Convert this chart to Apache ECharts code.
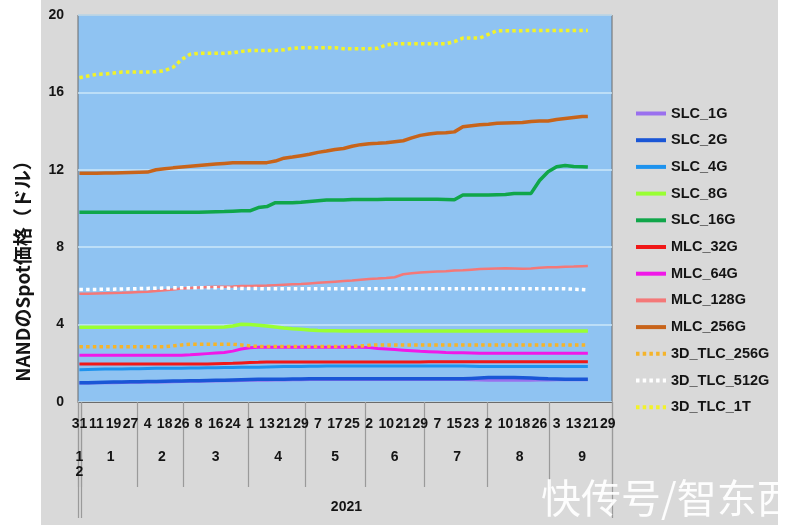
<!DOCTYPE html>
<html><head><meta charset="utf-8">
<script src="https://cdn.jsdelivr.net/npm/echarts@6/dist/echarts.min.js"></script>
<style>
html,body{margin:0;padding:0;background:#fff;}
#c{width:800px;height:525px;background:linear-gradient(to right,#ffffff 0,#ffffff 41px,#d9d9d9 41px,#d9d9d9 778px,#ffffff 778px);}
</style>
</head><body><div id="c"></div>
<script>
// ---- categories: trading days ----
const startDate = '2020-12-31';
const endDate = '2021-09-30';
const holidays = ['2021-01-01','2021-02-11','2021-02-12','2021-02-15','2021-02-16','2021-04-02','2021-04-05','2021-06-14'];
const yearLabel = '2021';
const yAxisName = 'NANDのSpot価格（ドル）';
const watermark = '快传号/智东西';

// ---- sample dates ----
const sampleDates = ['12/31','1/6','1/11','1/14','1/19','1/22','1/27','2/1','2/4','2/9',
 '2/18','2/23','2/26','3/3','3/8','3/11','3/16','3/19','3/24','3/29',
 '4/1','4/8','4/13','4/16','4/21','4/26','4/29','5/4','5/7','5/12',
 '5/17','5/20','5/25','5/28','6/2','6/7','6/10','6/16','6/21','6/24',
 '6/29','7/2','7/7','7/12','7/15','7/20','7/23','7/28','8/2','8/5',
 '8/10','8/13','8/18','8/23','8/26','8/31','9/3','9/8','9/13','9/16','9/20'];

const SLC_1G = [0.98,0.98,0.99,1.0,1.0,1.01,1.02,1.02,1.03,1.03,
 1.04,1.05,1.06,1.07,1.07,1.08,1.09,1.1,1.1,1.11,
 1.12,1.13,1.13,1.14,1.14,1.15,1.15,1.16,1.16,1.16,
 1.16,1.16,1.16,1.16,1.16,1.16,1.16,1.16,1.16,1.16,
 1.16,1.16,1.16,1.16,1.16,1.16,1.15,1.14,1.13,1.12,
 1.12,1.12,1.12,1.13,1.14,1.14,1.15,1.15,1.15,1.15,1.15];
const SLC_2G = [1.0,1.0,1.01,1.02,1.03,1.04,1.05,1.05,1.06,1.06,
 1.07,1.08,1.09,1.1,1.1,1.11,1.12,1.13,1.14,1.15,
 1.16,1.17,1.17,1.18,1.18,1.19,1.19,1.2,1.2,1.2,
 1.2,1.2,1.2,1.2,1.2,1.2,1.2,1.2,1.2,1.2,
 1.2,1.2,1.2,1.2,1.2,1.2,1.22,1.24,1.26,1.27,
 1.27,1.26,1.25,1.24,1.22,1.2,1.19,1.18,1.17,1.17,1.17];
const SLC_4G = [1.67,1.68,1.69,1.7,1.7,1.71,1.72,1.72,1.73,1.74,
 1.74,1.75,1.75,1.76,1.76,1.77,1.77,1.78,1.78,1.79,
 1.8,1.8,1.81,1.82,1.83,1.83,1.84,1.85,1.85,1.86,
 1.86,1.86,1.86,1.86,1.86,1.86,1.86,1.86,1.86,1.86,
 1.86,1.86,1.86,1.86,1.86,1.86,1.85,1.84,1.83,1.83,
 1.83,1.83,1.83,1.83,1.83,1.83,1.83,1.83,1.83,1.83,1.83];
const SLC_8G = [3.86,3.86,3.86,3.86,3.86,3.86,3.86,3.86,3.86,3.86,
 3.86,3.86,3.86,3.86,3.86,3.86,3.86,3.88,3.93,4.02,
 4.0,3.97,3.93,3.88,3.83,3.79,3.76,3.72,3.69,3.68,
 3.68,3.67,3.67,3.67,3.67,3.67,3.67,3.67,3.67,3.67,
 3.67,3.67,3.67,3.67,3.67,3.67,3.67,3.67,3.67,3.67,
 3.67,3.67,3.67,3.67,3.67,3.67,3.67,3.67,3.67,3.67,3.67];
const SLC_16G = [9.8,9.8,9.8,9.8,9.8,9.8,9.8,9.8,9.8,9.8,
 9.8,9.8,9.8,9.8,9.81,9.82,9.83,9.84,9.86,9.88,
 9.88,10.05,10.1,10.3,10.3,10.3,10.32,10.36,10.4,10.44,
 10.44,10.44,10.47,10.47,10.47,10.47,10.48,10.48,10.48,10.48,
 10.48,10.48,10.48,10.47,10.45,10.7,10.7,10.7,10.7,10.71,
 10.72,10.78,10.78,10.78,11.45,11.9,12.16,12.22,12.17,12.16,12.14];
const MLC_32G = [1.96,1.96,1.96,1.96,1.96,1.96,1.96,1.96,1.96,1.96,
 1.96,1.96,1.96,1.96,1.96,1.97,1.98,1.99,2.0,2.02,
 2.04,2.05,2.07,2.07,2.07,2.07,2.07,2.07,2.07,2.07,
 2.07,2.07,2.07,2.07,2.07,2.07,2.07,2.07,2.07,2.07,
 2.07,2.08,2.08,2.08,2.08,2.08,2.08,2.08,2.08,2.08,
 2.08,2.08,2.08,2.08,2.08,2.08,2.08,2.08,2.08,2.08,2.08];
const MLC_64G = [2.41,2.41,2.41,2.41,2.41,2.41,2.41,2.41,2.41,2.41,
 2.41,2.41,2.42,2.44,2.47,2.5,2.53,2.56,2.63,2.74,
 2.8,2.83,2.83,2.83,2.83,2.83,2.83,2.83,2.83,2.83,
 2.83,2.83,2.83,2.83,2.81,2.77,2.74,2.71,2.68,2.65,
 2.62,2.6,2.58,2.56,2.55,2.54,2.53,2.52,2.52,2.52,
 2.52,2.52,2.52,2.52,2.52,2.52,2.52,2.52,2.52,2.52,2.52];
const MLC_128G = [5.6,5.6,5.61,5.62,5.63,5.64,5.66,5.68,5.7,5.74,
 5.78,5.82,5.86,5.89,5.92,5.94,5.95,5.96,5.97,5.99,
 6.0,6.01,6.02,6.04,6.06,6.08,6.1,6.13,6.16,6.19,
 6.22,6.25,6.28,6.32,6.36,6.38,6.41,6.45,6.6,6.65,
 6.69,6.72,6.74,6.76,6.79,6.81,6.84,6.87,6.89,6.9,
 6.91,6.9,6.88,6.9,6.94,6.96,6.97,6.99,7.0,7.02,7.03];
const MLC_256G = [11.82,11.82,11.82,11.83,11.84,11.85,11.86,11.87,11.88,12.0,
 12.05,12.1,12.14,12.18,12.22,12.26,12.3,12.33,12.36,12.37,
 12.37,12.37,12.37,12.45,12.6,12.66,12.73,12.8,12.9,12.97,
 13.05,13.1,13.22,13.3,13.35,13.37,13.4,13.45,13.5,13.65,
 13.78,13.85,13.9,13.92,13.96,14.22,14.28,14.33,14.36,14.4,
 14.42,14.43,14.44,14.5,14.52,14.52,14.6,14.65,14.7,14.75,14.76];
const TLC3D_256G = [2.86,2.86,2.86,2.86,2.86,2.86,2.86,2.86,2.86,2.86,
 2.86,2.9,2.95,2.98,2.98,2.98,2.98,2.98,2.98,2.95,
 2.9,2.87,2.87,2.87,2.87,2.87,2.87,2.87,2.87,2.87,
 2.87,2.87,2.87,2.9,2.93,2.95,2.95,2.95,2.95,2.95,
 2.95,2.95,2.95,2.95,2.95,2.95,2.95,2.95,2.95,2.95,
 2.95,2.95,2.95,2.95,2.95,2.95,2.95,2.95,2.95,2.95,2.95];
const TLC3D_512G = [5.82,5.82,5.82,5.83,5.83,5.84,5.85,5.86,5.87,5.88,
 5.89,5.9,5.9,5.9,5.9,5.9,5.9,5.89,5.88,5.87,
 5.86,5.86,5.85,5.85,5.85,5.85,5.85,5.85,5.85,5.85,
 5.85,5.85,5.85,5.85,5.85,5.85,5.85,5.85,5.85,5.85,
 5.85,5.85,5.85,5.85,5.85,5.85,5.85,5.85,5.85,5.85,
 5.85,5.85,5.85,5.85,5.85,5.85,5.85,5.85,5.83,5.81,5.79];
const TLC3D_1T = [16.76,16.85,16.93,16.95,17.0,17.05,17.05,17.05,17.05,17.07,
 17.12,17.3,17.7,17.97,18.02,18.02,18.02,18.02,18.05,18.12,
 18.16,18.16,18.16,18.16,18.2,18.28,18.31,18.31,18.31,18.31,
 18.31,18.26,18.26,18.26,18.26,18.28,18.45,18.52,18.52,18.52,
 18.52,18.52,18.52,18.52,18.62,18.81,18.81,18.81,19.0,19.19,
 19.19,19.19,19.19,19.2,19.2,19.2,19.2,19.2,19.2,19.2,19.2];

const seriesNames = ['SLC_1G','SLC_2G','SLC_4G','SLC_8G','SLC_16G','MLC_32G','MLC_64G','MLC_128G','MLC_256G','3D_TLC_256G','3D_TLC_512G','3D_TLC_1T'];
const seriesValues = [SLC_1G,SLC_2G,SLC_4G,SLC_8G,SLC_16G,MLC_32G,MLC_64G,MLC_128G,MLC_256G,TLC3D_256G,TLC3D_512G,TLC3D_1T];
const seriesColors = ['#9a70ee','#1a56d6','#1e93ee','#99ff33','#10a64a','#f01818','#f018e8','#f47878','#c8641a','#f5b42a','#ffffff','#f2f22a'];
const seriesWidths = [3,3.5,3,3.5,3.5,3,3,2.5,3.5,3.5,3.5,3.5];
const seriesDotted = [false,false,false,false,false,false,false,false,false,true,true,true];

// ---- build categories ----
const categories = [];
const holidaySet = new Set(holidays);
{
  const d = new Date(startDate + 'T00:00:00Z');
  const end = new Date(endDate + 'T00:00:00Z');
  while (d <= end) {
    const iso = d.toISOString().slice(0,10);
    const wd = d.getUTCDay();
    if (wd !== 0 && wd !== 6 && !holidaySet.has(iso)) {
      categories.push((d.getUTCMonth()+1) + '/' + d.getUTCDate());
    }
    d.setUTCDate(d.getUTCDate()+1);
  }
}
const monthOf = c => +c.split('/')[0];
const monthStarts = [];
categories.forEach((c,i) => { if (i === 0 || monthOf(c) !== monthOf(categories[i-1])) monthStarts.push(i); });
const monthStartSet = new Set(monthStarts);
const monthMid = new Map();
monthStarts.forEach((s,k) => {
  const e = (k+1 < monthStarts.length ? monthStarts[k+1] : categories.length) - 1;
  monthMid.set(Math.round((s+e)/2), monthOf(categories[s]));
});
const yearStartIdx = categories.findIndex(c => monthOf(c) === 1);
const yearMid = Math.round((yearStartIdx + categories.length - 1)/2);

const FONT = '"Liberation Sans", Arial, sans-serif';
const lbl = {fontFamily: FONT, fontWeight: 'bold', fontSize: 14, color: '#141414'};

const chart = echarts.init(document.getElementById('c'), null, {renderer: 'canvas'});
chart.setOption({
  animation: false,
  backgroundColor: 'transparent',
  grid: {left: 78, top: 15, width: 534, height: 387, show: true, backgroundColor: '#8fc3f2', borderColor: '#6b6b6b', borderWidth: 1, containLabel: false},
  legend: {
    orient: 'vertical', left: 634, top: 106, padding: 0, itemWidth: 30, itemHeight: 14, itemGap: 11.7,
    textStyle: Object.assign({}, lbl, {fontSize: 14.5}),
    lineStyle: {width: 4},
    itemStyle: {opacity: 0},
    data: seriesNames
  },
  xAxis: [
    {type: 'category', data: categories, boundaryGap: true,
     axisLine: {show: true, lineStyle: {color: '#6b6b6b'}},
     axisTick: {show: false},
     axisLabel: Object.assign({}, lbl, {interval: 5, margin: 15, formatter: v => v.split('/')[1]}),
     splitLine: {show: false}},
    {type: 'category', data: categories, boundaryGap: true, position: 'bottom',
     axisLine: {show: false},
     axisTick: {show: true, interval: (i) => monthStartSet.has(i), length: 85, lineStyle: {color: '#9a9a9a', width: 1.2}},
     axisLabel: Object.assign({}, lbl, {interval: (i) => monthMid.has(i), margin: 48, lineHeight: 15,
       formatter: (v, i) => { const m = String(monthMid.get(i)); return m.length > 1 && i === 0 ? m.split('').join('\n') : m; }}),
     splitLine: {show: false}},
    {type: 'category', data: categories, boundaryGap: true, position: 'bottom',
     axisLine: {show: false},
     axisTick: {show: true, interval: (i) => i === 0 || i === yearStartIdx, length: 116, lineStyle: {color: '#9a9a9a', width: 1.2}},
     axisLabel: Object.assign({}, lbl, {interval: (i) => i === yearMid, margin: 98, formatter: () => yearLabel}),
     splitLine: {show: false}}
  ],
  yAxis: {
    type: 'value', min: 0, max: 20, interval: 4,
    name: yAxisName, nameLocation: 'middle', nameRotate: 90, nameGap: 46,
    nameTextStyle: {fontFamily: '"Noto Sans CJK JP", ' + FONT, fontWeight: 'bold', fontSize: 19, color: '#141414', padding: [0, 116, 0, 0]},
    axisLine: {show: false}, axisTick: {show: false},
    axisLabel: Object.assign({}, lbl, {margin: 14}),
    splitLine: {show: true, lineStyle: {color: '#cbe7f8', width: 1.5}}
  },
  graphic: [{
    type: 'text', left: 541, top: 478, z: 100, silent: true,
    style: {text: watermark, fill: 'rgba(255,255,255,0.93)', font: '40px "Noto Sans CJK SC"'}
  }],
  series: seriesNames.map((name, k) => ({
    name, type: 'line', symbol: 'none', showSymbol: false,
    data: sampleDates.map((d, i) => [d, seriesValues[k][i]]),
    lineStyle: {color: seriesColors[k], width: seriesWidths[k], type: seriesDotted[k] ? [3.5, 3.2] : 'solid', cap: 'butt'},
    itemStyle: {color: seriesColors[k]},
    z: 2 + k
  }))
});
</script>
</body></html>
